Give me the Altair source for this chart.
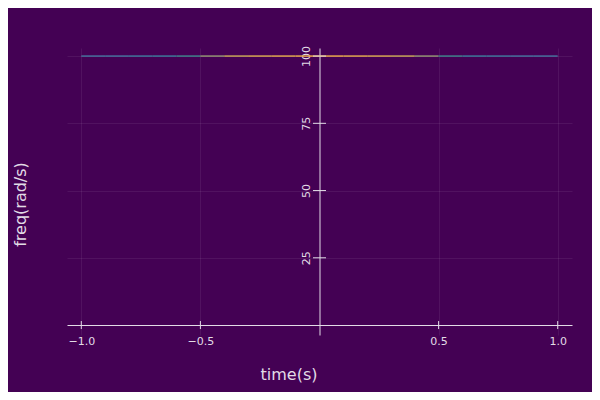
import altair as alt
import pandas as pd

# segment boundaries along time, and colour level of the line on each segment
seg_start = [-1.0, -0.9, -0.8, -0.7, -0.6, -0.5, -0.4, -0.3, -0.2, -0.1,
             0.0, 0.1, 0.2, 0.3, 0.4, 0.5, 0.6, 0.7, 0.8, 0.9]
seg_end = [-0.9, -0.8, -0.7, -0.6, -0.5, -0.4, -0.3, -0.2, -0.1, 0.0,
           0.1, 0.2, 0.3, 0.4, 0.5, 0.6, 0.7, 0.8, 0.9, 1.0]
seg_level = [0.05, 0.05, 0.08, 0.1, 0.2, 0.55, 0.85, 0.92, 0.96, 1.0,
             1.0, 0.96, 0.92, 0.85, 0.55, 0.2, 0.1, 0.08, 0.05, 0.05]
freq_value = 100

x_ticks = [-1.0, -0.5, 0.5, 1.0]
y_ticks = [25, 50, 75, 100]

BG = "#440154"
FG = "#e2dce6"

line_df = pd.DataFrame({"t0": seg_start, "t1": seg_end,
                        "f": [freq_value] * len(seg_start), "lvl": seg_level})
xt_df = pd.DataFrame({"v": x_ticks})
yt_df = pd.DataFrame({"v": y_ticks})

xscale = alt.Scale(domain=[-1.06, 1.06], nice=False, zero=False)
yscale = alt.Scale(domain=[-3.7, 103], nice=False, zero=False)

line = alt.Chart(line_df).mark_rule(strokeWidth=1.5).encode(
    x=alt.X("t0:Q", scale=xscale, title="time(s)",
            axis=alt.Axis(values=x_ticks, format=".1f", offset=-10,
                          ticks=False, tickSize=0, labelPadding=10,
                          titleX=221.5, titleY=54, titleBaseline="alphabetic",
                          titleAnchor="start", titleAlign="center")),
    x2="t1:Q",
    y=alt.Y("f:Q", scale=yscale, title="freq(rad/s)",
            axis=alt.Axis(values=y_ticks, format="d", offset=-252.5,
                          ticks=False, tickSize=0, labelPadding=8,
                          labelAngle=270, labelAlign="center",
                          labelBaseline="bottom",
                          titleAngle=270, titleX=-294.5, titleY=156,
                          titleBaseline="alphabetic")),
    color=alt.Color("lvl:Q", legend=None,
                    scale=alt.Scale(domain=[0, 0.5, 1],
                                    range=["#55699c", "#8d8f78", "#e9a84c"])),
)

xticks = alt.Chart(xt_df).mark_rule(color=FG, strokeWidth=1,
                                    yOffset=-4, y2Offset=4).encode(
    x=alt.X("v:Q", scale=xscale),
    y=alt.datum(0, scale=yscale),
    y2=alt.datum(0),
)

yticks = alt.Chart(yt_df).mark_rule(color=FG, strokeWidth=1,
                                    xOffset=-6.5, x2Offset=6.5).encode(
    y=alt.Y("v:Q", scale=yscale),
    x=alt.datum(0, scale=xscale),
    x2=alt.datum(0),
)

chart = alt.layer(line, xticks, yticks).properties(
    width=505, height=287,
    background=BG,
    padding={"left": 59, "top": 40, "right": 20, "bottom": 57},
    autosize=alt.AutoSizeParams(type="none"),
).configure_view(stroke=None).configure_axis(
    domainColor=FG, domainWidth=1,
    gridColor="#ffffff", gridOpacity=0.07, gridWidth=1,
    labelColor=FG, labelFont="DejaVu Sans", labelFontSize=11,
    titleColor=FG, titleFont="DejaVu Sans", titleFontSize=16,
    titleFontWeight="normal",
)

chart.save("out.html", embed_options={"renderer": "svg", "actions": False})
